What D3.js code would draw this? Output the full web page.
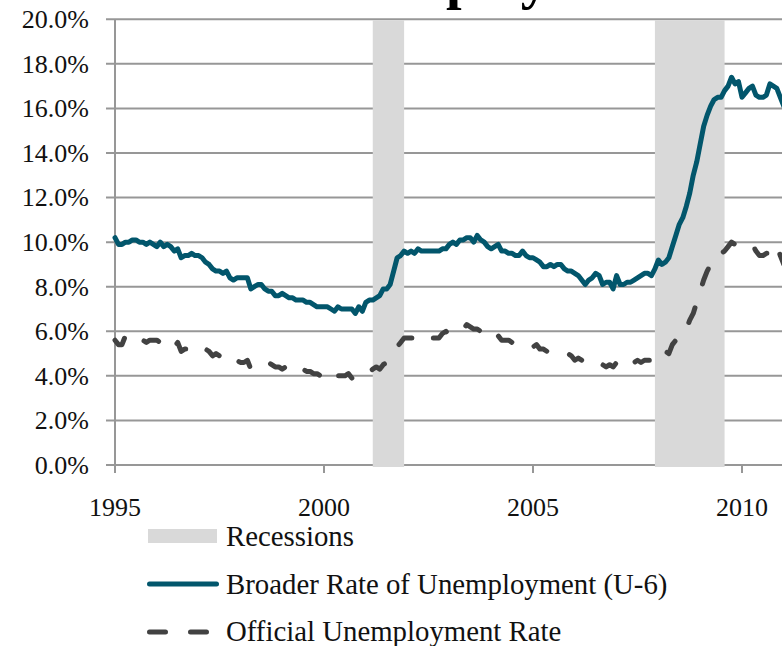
<!DOCTYPE html>
<html><head><meta charset="utf-8">
<script src="https://cdn.jsdelivr.net/npm/d3@7"></script>
<style>body{margin:0;background:#fff}svg{display:block}</style>
</head><body><svg id="c" width="782" height="646"></svg>
<script>
// ---- data ----
const startYear = 1995; // monthly series, first value = Jan 1995
const u6 = [
  10.2, 9.9, 9.9,10.0,10.0,10.1,10.1,10.0,10.0, 9.9,10.0, 9.9, // 1995
   9.8,10.0, 9.8, 9.9, 9.8, 9.6, 9.7, 9.3, 9.4, 9.4, 9.5, 9.4, // 1996
   9.4, 9.3, 9.1, 9.0, 8.8, 8.7, 8.7, 8.6, 8.7, 8.4, 8.3, 8.4, // 1997
   8.4, 8.4, 8.4, 7.9, 8.0, 8.1, 8.1, 7.9, 7.8, 7.8, 7.6, 7.6, // 1998
   7.7, 7.6, 7.5, 7.5, 7.4, 7.4, 7.4, 7.3, 7.3, 7.2, 7.1, 7.1, // 1999
   7.1, 7.1, 7.0, 6.9, 7.1, 7.0, 7.0, 7.0, 7.0, 6.8, 7.1, 6.9, // 2000
   7.3, 7.4, 7.4, 7.5, 7.6, 7.9, 7.9, 8.1, 8.7, 9.3, 9.4, 9.6, // 2001
   9.5, 9.6, 9.5, 9.7, 9.6, 9.6, 9.6, 9.6, 9.6, 9.6, 9.7, 9.7, // 2002
   9.9,10.0, 9.9,10.1,10.1,10.2,10.2,10.0,10.3,10.1,10.0, 9.8, // 2003
   9.7, 9.8, 9.9, 9.6, 9.6, 9.5, 9.5, 9.4, 9.4, 9.6, 9.4, 9.3, // 2004
   9.3, 9.2, 9.1, 8.9, 8.9, 9.0, 8.9, 9.0, 9.0, 8.8, 8.7, 8.7, // 2005
   8.6, 8.5, 8.3, 8.1, 8.3, 8.4, 8.6, 8.5, 8.1, 8.2, 8.2, 7.9, // 2006
   8.5, 8.1, 8.1, 8.2, 8.2, 8.3, 8.4, 8.5, 8.6, 8.6, 8.5, 8.8, // 2007
   9.2, 9.0, 9.1, 9.3, 9.8,10.3,10.8,11.1,11.6,12.2,13.0,13.6, // 2008
  14.4,15.2,15.7,16.1,16.4,16.5,16.5,16.8,17.0,17.4,17.1,17.2, // 2009
  16.5,16.7,16.9,17.0,16.6,16.5,16.5,16.6,17.1,17.0,16.9,16.5, // 2010
  16.1                                                         // 2011
];
const u3 = [
  5.6,5.4,5.4,5.8,5.6,5.6,5.7,5.7,5.6,5.5,5.6,5.6, // 1995
  5.6,5.5,5.5,5.6,5.6,5.3,5.5,5.1,5.2,5.2,5.4,5.4, // 1996
  5.3,5.2,5.2,5.1,4.9,5.0,4.9,4.8,4.9,4.7,4.6,4.7, // 1997
  4.6,4.6,4.7,4.3,4.4,4.5,4.5,4.5,4.6,4.5,4.4,4.4, // 1998
  4.3,4.4,4.2,4.3,4.2,4.3,4.3,4.2,4.2,4.1,4.1,4.0, // 1999
  4.0,4.1,4.0,3.8,4.0,4.0,4.0,4.1,3.9,3.9,3.9,3.9, // 2000
  4.2,4.2,4.3,4.4,4.3,4.5,4.6,4.9,5.0,5.3,5.5,5.7, // 2001
  5.7,5.7,5.7,5.9,5.8,5.8,5.8,5.7,5.7,5.7,5.9,6.0, // 2002
  5.8,5.9,5.9,6.0,6.1,6.3,6.2,6.1,6.1,6.0,5.8,5.7, // 2003
  5.7,5.6,5.8,5.6,5.6,5.6,5.5,5.4,5.4,5.5,5.4,5.4, // 2004
  5.3,5.4,5.2,5.2,5.1,5.0,5.0,4.9,5.0,5.0,5.0,4.9, // 2005
  4.7,4.8,4.7,4.7,4.6,4.6,4.7,4.7,4.5,4.4,4.5,4.4, // 2006
  4.6,4.5,4.4,4.5,4.4,4.6,4.7,4.6,4.7,4.7,4.7,5.0, // 2007
  5.0,4.9,5.1,5.0,5.4,5.6,5.8,6.1,6.1,6.5,6.8,7.3, // 2008
  7.8,8.3,8.7,9.0,9.4,9.5,9.5,9.6,9.8,10.0,9.9,9.9, // 2009
  9.8,9.8,9.9,9.9,9.6,9.4,9.4,9.5,9.5,9.4,9.8,9.4, // 2010
  9.0                                               // 2011
];
const recessionStarts = [2001 + 2/12, 2007 + 11/12];
const recessionEnds   = [2001 + 11/12, 2009 + 7/12];
const yTicks = [0, 2, 4, 6, 8, 10, 12, 14, 16, 18, 20];
const xTicks = [1995, 2000, 2005, 2010];
const legendLabels = ["Recessions", "Broader Rate of Unemployment (U-6)", "Official Unemployment Rate"];
const titleText = "Unemployment";

// ---- layout / style ----
const FONT = "'Liberation Serif', 'Times New Roman', serif";
const TEAL = "#02566c", DARK = "#424242", GRID = "#979797", BAND = "#d9d9d9";

const svg = d3.select("#c");
const x = d3.scaleLinear().domain([1995, 2010]).range([115, 742]);
const y = d3.scaleLinear().domain([0, 20]).range([465, 19.3]);

// title: in the reference it sits above the visible area, only descenders show
const t = svg.append("text").attr("y", -2).attr("font-family", FONT)
  .attr("font-weight", "bold").attr("font-size", 56).attr("fill", "#000").text(titleText);
const pIdx = titleText.indexOf("p");
const off = t.node().getSubStringLength(0, pIdx);
t.attr("x", 446 - off);

// gridlines
svg.append("g").selectAll("line").data(yTicks).join("line")
  .attr("x1", 106).attr("x2", 782)
  .attr("y1", d => y(d)).attr("y2", d => y(d))
  .attr("stroke", GRID).attr("stroke-width", 2);

// y axis line
svg.append("line").attr("x1", x(1995)).attr("x2", x(1995))
  .attr("y1", y(20)).attr("y2", 472).attr("stroke", GRID).attr("stroke-width", 2);

// x ticks
svg.append("g").selectAll("line").data(xTicks).join("line")
  .attr("x1", d => x(d)).attr("x2", d => x(d))
  .attr("y1", y(0)).attr("y2", 473).attr("stroke", GRID).attr("stroke-width", 2);

// recession bands
svg.append("g").selectAll("rect").data(recessionStarts).join("rect")
  .attr("x", d => x(d)).attr("width", (d, i) => x(recessionEnds[i]) - x(d))
  .attr("y", y(20) + 1).attr("height", 467 - y(20) - 1).attr("fill", BAND);

// y labels
svg.append("g").selectAll("text").data(yTicks).join("text")
  .attr("x", 89).attr("y", d => y(d)).attr("dy", "0.34em")
  .attr("text-anchor", "end").attr("font-family", FONT).attr("font-size", 26)
  .attr("fill", "#111").text(d => d.toFixed(1) + "%");

// x labels
svg.append("g").selectAll("text").data(xTicks).join("text")
  .attr("x", d => x(d)).attr("y", 516).attr("text-anchor", "middle")
  .attr("font-family", FONT).attr("font-size", 26).attr("fill", "#111").text(d => d);

// series
const mk = arr => arr.map((v, i) => ({ t: startYear + i / 12, v }));
const line = d3.line().x(d => x(d.t)).y(d => y(d.v));
svg.append("path").datum(mk(u3)).attr("d", line).attr("fill", "none")
  .attr("stroke", DARK).attr("stroke-width", 5).attr("stroke-dasharray", "16 25")
  .attr("stroke-linecap", "round").attr("stroke-linejoin", "round");
svg.append("path").datum(mk(u6)).attr("d", line).attr("fill", "none")
  .attr("stroke", TEAL).attr("stroke-width", 5)
  .attr("stroke-linecap", "round").attr("stroke-linejoin", "round");

// legend
const lg = svg.append("g");
lg.append("rect").attr("x", 148).attr("y", 529).attr("width", 69).attr("height", 14).attr("fill", BAND);
lg.append("line").attr("x1", 149.5).attr("x2", 216.5).attr("y1", 584).attr("y2", 584)
  .attr("stroke", TEAL).attr("stroke-width", 5).attr("stroke-linecap", "round");
lg.append("line").attr("x1", 149.5).attr("x2", 216.5).attr("y1", 632).attr("y2", 632)
  .attr("stroke", DARK).attr("stroke-width", 5).attr("stroke-dasharray", "16 25").attr("stroke-linecap", "round");
lg.selectAll("text").data(legendLabels).join("text")
  .attr("x", 226).attr("y", (d, i) => 546 + i * 47.5)
  .attr("font-family", FONT).attr("font-size", 28.8).attr("fill", "#111").text(d => d);
</script></body></html>
